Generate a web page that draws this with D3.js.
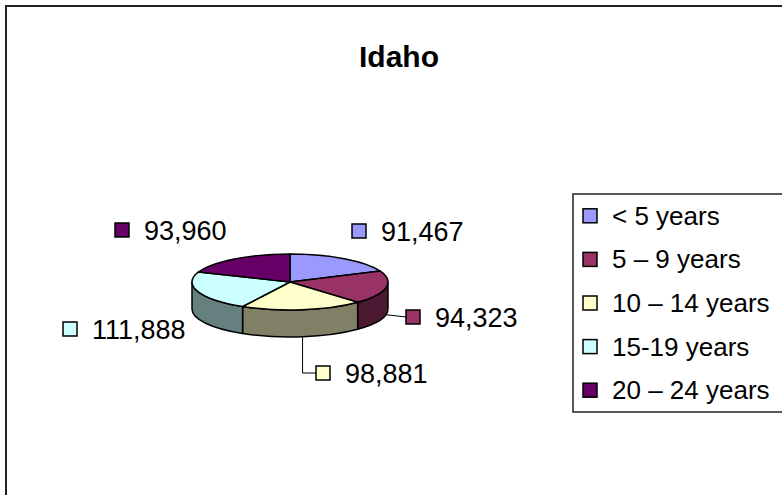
<!DOCTYPE html>
<html>
<head>
<meta charset="utf-8">
<script src="https://cdn.jsdelivr.net/npm/d3@7"></script>
<style>
  body { margin: 0; background: #fff; }
  svg { display: block; font-family: "Liberation Sans", Arial, sans-serif; }
</style>
</head>
<body>
<div id="chart"></div>
<script>
// data
const categories = ["< 5 years", "5 \u2013 9 years", "10 \u2013 14 years", "15-19 years", "20 \u2013 24 years"];
const population = [91467, 94323, 98881, 111888, 93960];
const topColors = ["#9999FF", "#993366", "#FFFFCC", "#CCFFFF", "#660066"];
const sideColors = ["#4C4C80", "#4C1933", "#808066", "#668080", "#330033"];

// layout
const W = 782, H = 495;
const cx = 290, cy = 282, rx = 98, ry = 28, depth = 27;
// label square position relative to pie centre
const labelOffsets = [[62, -58], [116, 28], [26, 84], [-227, 40], [-175, -59]];
const sq = 14;

const svg = d3.select("#chart").append("svg")
  .attr("width", W).attr("height", H);

svg.append("rect")
  .attr("x", 6).attr("y", 6).attr("width", W + 20).attr("height", H + 20)
  .attr("fill", "#fff").attr("stroke", "#222").attr("stroke-width", 2);

svg.append("text")
  .attr("x", 399).attr("y", 67)
  .attr("text-anchor", "middle")
  .attr("font-size", 30).attr("font-weight", "bold")
  .text("Idaho");

const pie = d3.pie().sort(null).value(d => d);
const arcs = pie(population);

// point on the tilted ellipse at angle a (clockwise from 12 o'clock)
const pt = (a, dy = 0) => [cx + rx * Math.sin(a), cy - ry * Math.cos(a) + dy];

const g = svg.append("g");

// sides (front half only)
arcs.forEach((d, i) => {
  const a1 = Math.max(d.startAngle, Math.PI / 2);
  const a2 = Math.min(d.endAngle, 3 * Math.PI / 2);
  if (a2 <= a1) return;
  const p1 = pt(a1), p2 = pt(a2), q2 = pt(a2, depth), q1 = pt(a1, depth);
  const path = `M${p1}A${rx},${ry} 0 0 1 ${p2}L${q2}A${rx},${ry} 0 0 0 ${q1}Z`;
  g.append("path").attr("d", path)
    .attr("fill", sideColors[i]).attr("stroke", "#000").attr("stroke-width", 1.5)
    .attr("stroke-linejoin", "round");
});

// tops
arcs.forEach((d, i) => {
  const p1 = pt(d.startAngle), p2 = pt(d.endAngle);
  const large = d.endAngle - d.startAngle > Math.PI ? 1 : 0;
  const path = `M${cx},${cy}L${p1}A${rx},${ry} 0 ${large} 1 ${p2}Z`;
  g.append("path").attr("d", path)
    .attr("fill", topColors[i]).attr("stroke", "#000").attr("stroke-width", 1.5)
    .attr("stroke-linejoin", "round");
});

// data labels
const fmt = d3.format(",");
arcs.forEach((d, i) => {
  const sx = cx + labelOffsets[i][0], sy = cy + labelOffsets[i][1];
  const mid = (d.startAngle + d.endAngle) / 2;
  const anchor = pt(mid, depth);
  const scy = sy + sq / 2;
  if (i === 1) {
    svg.append("path").attr("d", `M${anchor}L${sx},${scy}`)
      .attr("fill", "none").attr("stroke", "#000").attr("stroke-width", 1);
  }
  if (i === 2) {
    svg.append("path").attr("d", `M${anchor}L${anchor[0]},${scy}L${sx},${scy}`)
      .attr("fill", "none").attr("stroke", "#000").attr("stroke-width", 1);
  }
  svg.append("rect")
    .attr("x", sx).attr("y", sy).attr("width", sq).attr("height", sq)
    .attr("fill", topColors[i]).attr("stroke", "#000").attr("stroke-width", 1.5);
  svg.append("text")
    .attr("x", sx + 29).attr("y", scy + 9.5)
    .attr("font-size", 27)
    .text(fmt(d.data));
});

// legend
const legY = d3.scaleBand().domain(categories).range([194, 412]);
const leg = svg.append("g");
leg.append("rect")
  .attr("x", 573).attr("y", 194).attr("width", 230).attr("height", 218)
  .attr("fill", "#fff").attr("stroke", "#222").attr("stroke-width", 1.5);
categories.forEach((c, i) => {
  const yc = legY(c) + legY.bandwidth() / 2;
  leg.append("rect")
    .attr("x", 583).attr("y", yc - sq / 2).attr("width", sq).attr("height", sq)
    .attr("fill", topColors[i]).attr("stroke", "#000").attr("stroke-width", 1.5);
  leg.append("text")
    .attr("x", 612).attr("y", yc + 9)
    .attr("font-size", 26)
    .text(c);
});
</script>
</body>
</html>
